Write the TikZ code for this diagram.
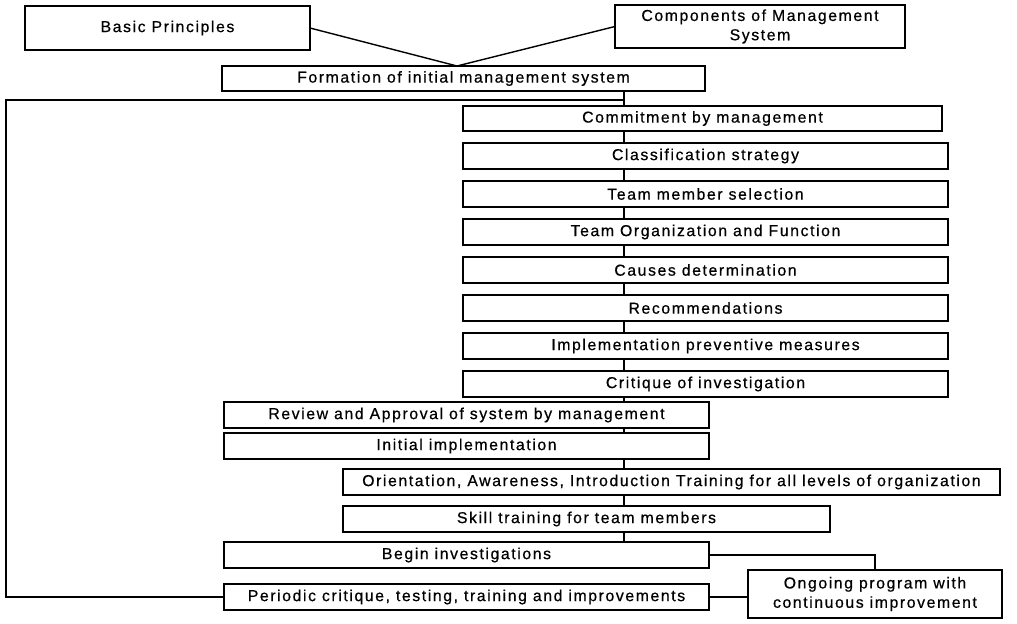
\documentclass[tikz,border=0pt]{standalone}
\usepackage{fontspec}
\newfontfamily\boxfont{Liberation Sans}[LetterSpace=10,FakeBold=0.6]
\usetikzlibrary{positioning,calc}

\begin{document}
\begin{tikzpicture}[node distance=.24cm,outer sep=0pt,line width=.8pt,
  boxA/.style={
    draw=black,
    rectangle,
    inner sep=0pt,
    font={\boxfont\fontsize{9}{11}\selectfont},
    align=center,
    minimum width=9.7cm,
    minimum height=.52cm,
    anchor=north west,
%    text height=8pt,
%    text depth=2pt
    },
  boxB/.style={boxA,minimum height=.88cm},
  ]
  \useasboundingbox (0,0) rectangle (20.34,-12.46);

  \node[boxB, minimum width=5.7cm] (basics) at (.5,-.12) {Basic Principles};
  \node[boxB, minimum width=5.8cm, minimum height=.86cm] (compMS) at (12.3,-.1) {Components of Management\\System};
  \node[boxA, minimum width=9.66cm, minimum height=.5cm] (formMS) at (4.44,-1.32) {Formation of initial management system};
  \coordinate (join) at (9.14,-1.32);

  \node[boxA, minimum width=9.58cm, minimum height=.5cm] (commit) at (9.26,-2.12) {Commitment by management};
  \node[boxA, below=of commit.south west, anchor=north west] (classStrat) {Classification strategy};
  \node[boxA, below=of classStrat.south west, anchor=north west] (teamSel) {Team member selection};
  \node[boxA, below=of teamSel.south west, anchor=north west] (teamOrg) {Team Organization and Function};
  \node[boxA, below=of teamOrg.south west, anchor=north west] (causes) {Causes determination};
  \node[boxA, below=of causes.south west, anchor=north west] (recomm) {Recommendations};
  \node[boxA, below=of recomm.south west, anchor=north west] (implPM) {Implementation preventive measures};
  \node[boxA, below=of implPM.south west, anchor=north west] (critique) {Critique of investigation};

  \node[boxA] (review) at (4.48,-8.04) {Review and Approval of system by management};
  \node[boxA, below=.1cm of review.south west, anchor=north west] (initImpl) {Initial implementation};
  \node[boxA, minimum width=13.14cm] (orient) at (6.86,-9.38) {Orientation, Awareness, Introduction Training for all levels of organization};
  \node[boxA, below=.22cm of orient.south west, anchor=north west, minimum width=9.74cm] (skill) {Skill training for team members};
  \node[boxA] (beginInv) at (4.48,-10.84) {Begin investigations};
  \node[boxA, below=.32cm of beginInv.south west, anchor=north west] (periodic) {Periodic critique, testing, training and improvements};
  \node[boxB, minimum width=5.08cm, minimum height=.96cm] (ongoing) at (14.96,-11.4) {Ongoing program with\\continuous improvement};

  \coordinate (spine) at (12.48,0);
  \coordinate (loopL) at (.12,-2);

  \draw (basics.east) -- (join) -- (compMS.west);
  \foreach \a/\b in {formMS/commit,commit/classStrat,classStrat/teamSel,teamSel/teamOrg,teamOrg/causes,causes/recomm,recomm/implPM,implPM/critique,critique/review,review/initImpl,initImpl/orient,orient/skill,skill/beginInv}
    \draw (\a.south -| spine) -- (\b.north -| spine);
  \draw (spine |- loopL) -- (loopL) |- (periodic.west);
  \draw (beginInv.east) -| (ongoing.north);
  \draw (periodic.east) -- (periodic.east -| ongoing.west);

  \end{tikzpicture}
\end{document}
